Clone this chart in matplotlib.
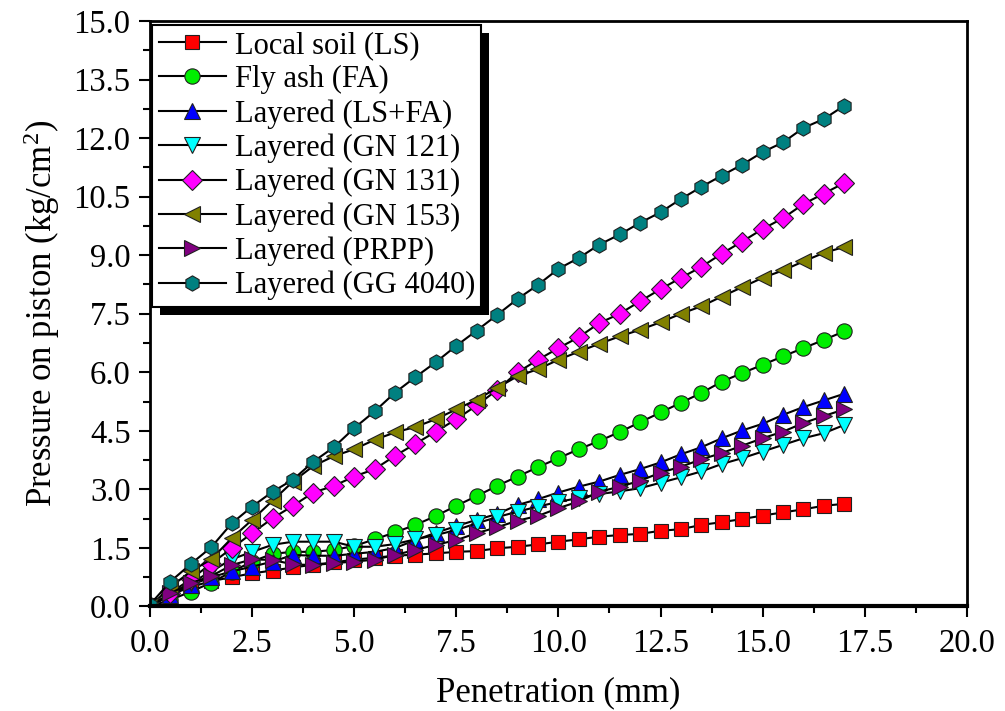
#!/usr/bin/env python3

import matplotlib
matplotlib.use('Agg')
import matplotlib.pyplot as plt
import numpy as np
from matplotlib.patches import Rectangle

plt.rcParams['font.family'] = ['Liberation Serif', 'DejaVu Serif']
plt.rcParams['mathtext.default'] = 'regular'

# penetration (mm), 0 to 17 in 0.5 mm steps
penetration = np.arange(0, 17.5, 0.5)

local_soil = [0, 0.30, 0.50, 0.65, 0.75, 0.85, 0.92, 1.00, 1.07, 1.13, 1.20, 1.25, 1.30, 1.33, 1.36,
              1.40, 1.42, 1.49, 1.53, 1.59, 1.66, 1.72, 1.79, 1.83, 1.86, 1.94, 1.98, 2.09, 2.16,
              2.24, 2.33, 2.41, 2.49, 2.58, 2.63]
fly_ash = [0, 0.17, 0.38, 0.61, 0.89, 1.15, 1.35, 1.40, 1.40, 1.45, 1.55, 1.72, 1.90, 2.09, 2.32,
           2.58, 2.83, 3.09, 3.33, 3.57, 3.80, 4.03, 4.24, 4.47, 4.72, 4.97, 5.22, 5.47, 5.76,
           5.98, 6.19, 6.41, 6.62, 6.83, 7.05]
ls_fa = [0, 0.30, 0.55, 0.75, 0.90, 1.02, 1.15, 1.32, 1.30, 1.30, 1.35, 1.40, 1.50, 1.70, 1.89,
         2.06, 2.22, 2.37, 2.60, 2.75, 2.92, 3.07, 3.20, 3.37, 3.52, 3.69, 3.90, 4.08, 4.31,
         4.51, 4.68, 4.91, 5.11, 5.28, 5.45]
gn121 = [0, 0.30, 0.60, 0.90, 1.21, 1.40, 1.58, 1.66, 1.66, 1.66, 1.53, 1.53, 1.60, 1.72, 1.83,
         1.96, 2.13, 2.29, 2.43, 2.56, 2.68, 2.78, 2.88, 2.95, 3.03, 3.17, 3.31, 3.46, 3.65,
         3.80, 3.97, 4.14, 4.31, 4.44, 4.65]
gn131 = [0, 0.35, 0.70, 1.10, 1.49, 1.88, 2.26, 2.58, 2.92, 3.09, 3.33, 3.52, 3.86, 4.17, 4.48,
         4.80, 5.15, 5.55, 6.00, 6.32, 6.62, 6.90, 7.26, 7.50, 7.82, 8.13, 8.42, 8.70, 9.04,
         9.35, 9.67, 9.95, 10.31, 10.58, 10.85]
gn153 = [0, 0.50, 0.90, 1.21, 1.75, 2.22, 2.71, 3.20, 3.60, 3.85, 4.03, 4.27, 4.46, 4.60, 4.80,
         5.05, 5.30, 5.60, 5.90, 6.08, 6.32, 6.53, 6.73, 6.92, 7.09, 7.28, 7.50, 7.69, 7.94,
         8.18, 8.42, 8.61, 8.84, 9.06, 9.21]
prpp = [0, 0.34, 0.60, 0.78, 1.06, 1.21, 1.19, 1.08, 1.06, 1.11, 1.15, 1.20, 1.32, 1.45, 1.58,
        1.70, 1.88, 2.03, 2.20, 2.32, 2.52, 2.69, 2.94, 3.07, 3.22, 3.43, 3.58, 3.77, 3.93,
        4.12, 4.31, 4.48, 4.70, 4.88, 5.05]
gg4040 = [0.05, 0.64, 1.09, 1.52, 2.13, 2.56, 2.94, 3.25, 3.71, 4.08, 4.57, 5.00, 5.48, 5.88, 6.26,
          6.68, 7.07, 7.47, 7.88, 8.24, 8.65, 8.93, 9.27, 9.53, 9.83, 10.10, 10.44, 10.75, 11.04,
          11.32, 11.64, 11.89, 12.26, 12.49, 12.83]

series = [
    ('Local soil (LS)', local_soil, 's', '#ff0000', 10),
    ('Fly ash (FA)', fly_ash, 'o', '#00ee00', 11),
    ('Layered (LS+FA)', ls_fa, '^', '#0000ff', 12),
    ('Layered (GN 121)', gn121, 'v', '#00ffff', 12),
    ('Layered (GN 131)', gn131, 'D', '#ff00ff', 10),
    ('Layered (GN 153)', gn153, '<', '#808000', 12),
    ('Layered (PRPP)', prpp, '>', '#800080', 12),
    ('Layered (GG 4040)', gg4040, 'h', '#008080', 11),
]

fig = plt.figure(figsize=(10.05, 7.11), dpi=100)
ax = fig.add_axes([0.1493, 0.147, 0.8127, 0.8235])

for label, vals, mk, col, ms in series:
    ax.plot(penetration, vals, '-', color='black', lw=1.5, marker=mk, markersize=ms,
            markerfacecolor=col, markeredgecolor='#202020', markeredgewidth=0.8, label=label)

ax.set_xlim(0, 20)
ax.set_ylim(0, 15)
ax.set_xticks(np.arange(0, 20.1, 2.5))
ax.set_xticks(np.arange(0, 20.1, 1.25), minor=True)
ax.set_yticks(np.arange(0, 15.1, 1.5))
ax.set_yticks(np.arange(0, 15.1, 0.75), minor=True)
ax.xaxis.set_major_formatter(matplotlib.ticker.FormatStrFormatter('%.1f'))
ax.yaxis.set_major_formatter(matplotlib.ticker.FormatStrFormatter('%.1f'))
ax.tick_params(which='major', direction='out', length=8, width=1.5, labelsize=23.5)
ax.tick_params(which='minor', direction='out', length=5, width=1.5)
ax.tick_params(axis='x', pad=8)
ax.tick_params(axis='y', pad=6)
for s in ax.spines.values():
    s.set_linewidth(2)
ax.spines['bottom'].set_linewidth(3)

ax.set_xlabel('Penetration (mm)', fontsize=25, labelpad=12)
ax.set_ylabel('Pressure on piston (kg/cm$^{2}$)', fontsize=25, labelpad=8)

leg = ax.legend(loc='upper left', bbox_to_anchor=(0.003, 0.993), borderaxespad=0, fontsize=22,
                frameon=True, fancybox=False, framealpha=1, edgecolor='black',
                labelspacing=0.16, borderpad=0.2, handletextpad=0.3, handlelength=2.2)
leg.get_frame().set_linewidth(1.5)
leg.set_zorder(10)

# solid black drop shadow behind the legend box
fig.canvas.draw()
bb = leg.get_window_extent().transformed(fig.transFigure.inverted())
dx, dy = 8 / 1005, 8 / 711
ax.add_patch(Rectangle((bb.x0 + dx, bb.y0 - dy), bb.width, bb.height, transform=fig.transFigure,
                       facecolor='black', edgecolor='none', zorder=9, clip_on=False))

plt.savefig('out.png', dpi=100)
